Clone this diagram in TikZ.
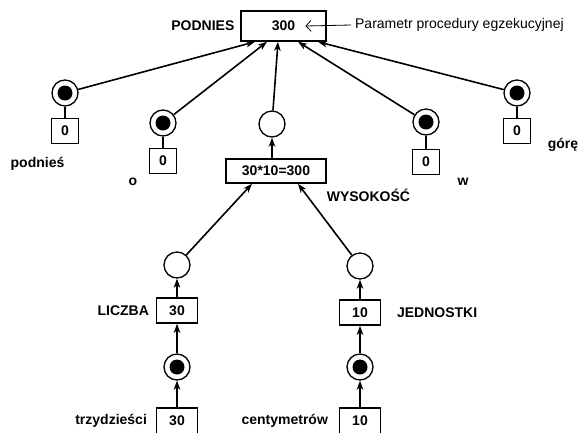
\documentclass[tikz,border=0pt]{standalone}
\usepackage{fontspec}
\setmainfont{Liberation Sans}
\usetikzlibrary{%
  arrows.meta,%
  positioning,% wg. " of "
  calc%
}

\begin{document}
\begin{tikzpicture}[x=1pt, y=-1pt,
  font=\fontsize{14}{16}\selectfont\bfseries, >={Stealth[length=9pt, width=6.5pt, inset=2.5pt]}, line width=1.6pt,
  place/.style={circle, minimum size=26pt, inner sep=0pt, draw=black, line width=1.3pt},
  marked/.style={place, path picture={\fill[black] (path picture bounding box.center) circle (7.5pt);}},
  val/.style={rectangle, draw=black, minimum width=27pt, minimum height=25pt, inner sep=0pt},
  wide/.style={val, minimum width=41pt}
]
\clip (0,0) rectangle (580,432);

\node[val, minimum width=85pt, minimum height=30pt, label={[inner sep=5pt]left:PODNIES}] (top) at (283.5,26) {300};
\node[anchor=west, font=\fontsize{14}{16}\selectfont] (param) at (351,25) {Parametr procedury egzekucyjnej};
\draw[-{Straight Barb[length=5pt, width=11pt]}, line width=0.8pt] (param.west) -- ([xshift=22pt]top.center);

\node[marked] (p1) at (65,93) {};
  \node[val] (p1v) at (65,131) {0};
  \node (w1) at (37.5,164) {podnieś};
\node[marked] (p2) at (163,123) {};
  \node[val] (p2v) at (163,161) {0};
  \node (w2) at (133,182) {o};
\node[place] (p3) at (272,124) {};
\node[marked] (p4) at (426,122) {};
  \node[val] (p4v) at (426,162) {0};
  \node (w4) at (463,182) {w};
\node[marked] (p5) at (517,93) {};
  \node[val] (p5v) at (517,131) {0};
  \node (w5) at (563,145) {górę};

\node[val, minimum width=100pt, minimum height=24pt] (mid) at (276,171) {30*10=300};
\node[anchor=base west, inner sep=0pt] (wys) at (326,201) {WYSOKOŚĆ};

\node[place] (l1) at (177,265) {};
  \node[wide, label={[inner sep=6pt]left:LICZBA}] (l2) at (177,310.5) {30};
  \node[marked] (l3) at (177,367) {};
  \node[wide, minimum height=26pt, label={[inner sep=8pt]left:trzydzieści}] (l4) at (177,421) {30};
\node[place] (r1) at (360,266) {};
  \node[wide, label={[inner sep=15pt]right:JEDNOSTKI}] (r2) at (360,312.5) {10};
  \node[marked] (r3) at (360,367) {};
  \node[wide, minimum height=26pt, label={[inner sep=10pt]left:centymetrów}] (r4) at (360,421) {10};

\draw (p1) -- (p1v);
\draw (p2) -- (p2v);
\draw (p4) -- (p4v);
\draw (p5) -- (p5v);

\draw[->] (p1) -- ([xshift=-28.5pt]top.south);
\draw[->] (p2) -- ([xshift=-16.5pt]top.south);
\draw[->] (p3) -- ([xshift=-5.5pt]top.south);
\draw[->] (p4) -- ([xshift=14.5pt]top.south);
\draw[->] (p5) -- ([xshift=34.5pt]top.south);

\draw[->] (mid.north -| p3) -- (p3);
\draw[->] (l1) -- ([xshift=-24pt]mid.south);
\draw[->] (r1) -- ([xshift=22pt]mid.south);

\draw[->] (l2) -- (l1);
\draw[->] (l3) -- (l2);
\draw[->] (l4) -- (l3);
\draw[->] (r2) -- (r1);
\draw[->] (r3) -- (r2);
\draw[->] (r4) -- (r3);
\end{tikzpicture}
\end{document}
